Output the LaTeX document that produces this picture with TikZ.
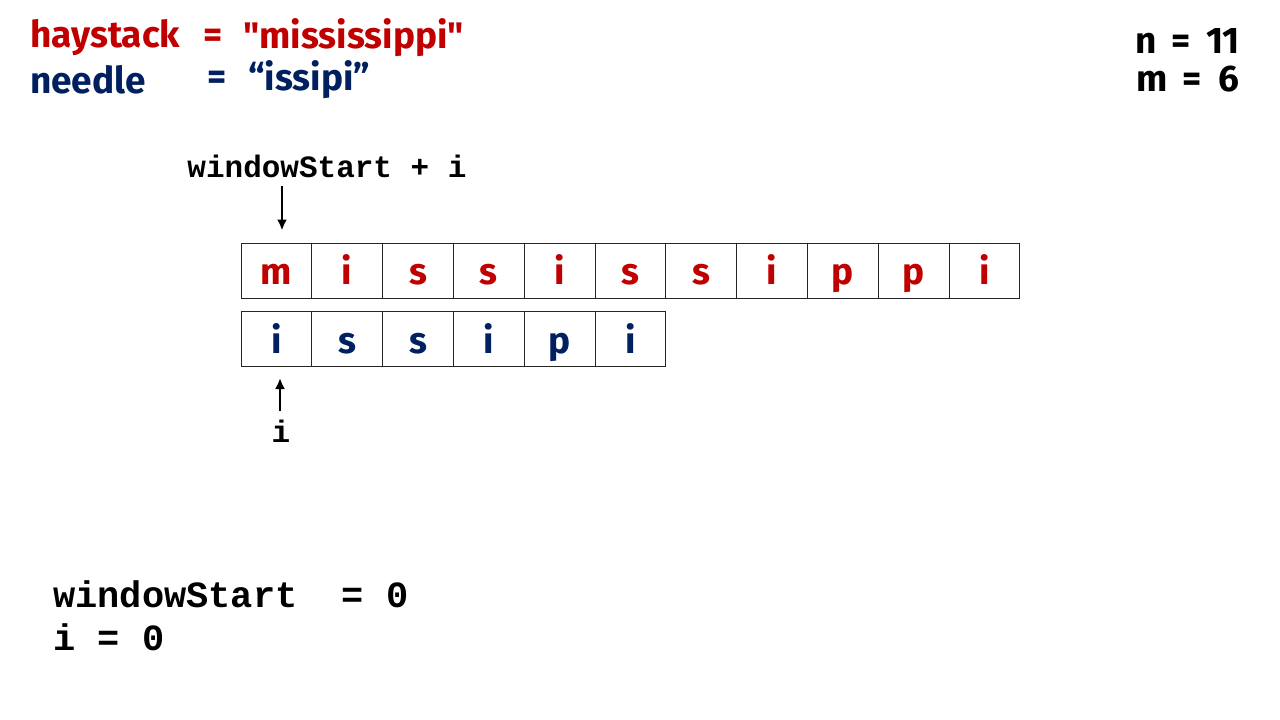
\documentclass[tikz,border=0pt]{standalone}
\usepackage{fontspec}
\setmainfont{Fira Sans}
\setmonofont{Liberation Mono}
\usetikzlibrary{arrows.meta}
\definecolor{hayred}{RGB}{192,0,0}
\definecolor{needleblue}{RGB}{0,32,96}
\newcommand{\plainq}{{\addfontfeatures{Ligatures=TeXOff}"}}
\tikzset{
  cell/.style={draw=black!85, line width=1pt, minimum width=70.8pt, minimum height=55pt, inner sep=0pt,
    text height=38pt, text depth=10pt, font=\fontsize{37}{40}\selectfont\bfseries},
  code/.style={font=\fontsize{31}{34}\selectfont\ttfamily\bfseries, inner sep=0pt},
  big/.style={font=\fontsize{37}{40}\selectfont\bfseries, inner sep=0pt},
  ptr/.style={line width=2.5pt, -{Latex[length=11pt,width=10pt]}}
}
\begin{document}
\begin{tikzpicture}[x=1pt, y=-1pt]
\useasboundingbox (0,0) rectangle (1280,720);
% strings
\node[big, hayred, anchor=west] (hay) at (30, 38) {haystack};
\node[big, hayred] (hayeq) at (213, 38) {=};
\node[big, hayred, anchor=west] (haystr) at (243, 38) {\plainq mississippi\plainq};
\node[big, needleblue, anchor=west] (ndl) at (30, 80) {needle};
\node[big, needleblue] (ndleq) at (217, 80) {=};
\node[big, needleblue, anchor=west] (ndlstr) at (248, 80) {“issipi”};
\node[big, anchor=east] (nlen) at (1240, 41) {n \,=\, 11};
\node[big, anchor=east] (mlen) at (1240, 79) {m \,=\ \ 6};
% haystack cells
\foreach \ch [count=\k] in {m,i,s,s,i,s,s,i,p,p,i}
  \node[cell, text=hayred] (h\k) at (241+70.8*\k-35.4, 270.5) {\ch};
% needle cells
\foreach \ch [count=\k] in {i,s,s,i,p,i}
  \node[cell, text=needleblue] (n\k) at (241+70.8*\k-35.4, 339) {\ch};
% pointers
\node[code] (winlbl) at (327, 166) {windowStart + i};
\coordinate (wintop) at (282, 186);
\draw[ptr, shorten >=12pt] (wintop) -- (wintop |- h1.north);
\node[code] (ilbl) at (281, 431) {i};
\draw[ptr, shorten <=9pt, shorten >=11pt] (ilbl.north -| 280, 0) -- (n1.south -| 280, 0);
% state
\node[code, font=\fontsize{37}{40}\selectfont\ttfamily\bfseries, anchor=west] (wsval) at (53, 594) {windowStart\ \ = 0};
\node[code, font=\fontsize{37}{40}\selectfont\ttfamily\bfseries, anchor=west] (ival) at (53, 637) {i = 0};
\end{tikzpicture}
\end{document}
